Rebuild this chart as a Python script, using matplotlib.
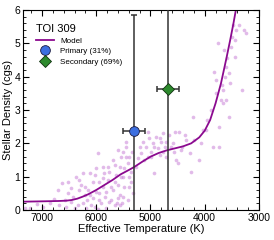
# stellar density vs effective temperature for TOI 309
import numpy
import matplotlib
matplotlib.use('Agg')
import matplotlib.pyplot as plt
from matplotlib.ticker import MultipleLocator

plt.rcParams['font.family'] = ['Liberation Sans', 'DejaVu Sans']

# background sample of stars (Teff [K], density [cgs])
field_teff = [7320, 7100, 6860, 6770, 6640, 6710, 6520, 6460, 6430, 6340,
              6280, 6310, 6210, 6170, 6120, 6060, 6030, 6000, 5970, 5940,
              5910, 5880, 5850, 5830, 5790, 5760, 5720, 5690, 5660, 5630,
              5620, 5600, 5570, 5540, 5520, 5500, 5480, 5460, 5450, 5420,
              5400, 5390, 5360, 5340, 5260, 5230, 5200, 5170, 5140, 5110,
              5080, 5050, 5020, 4990, 4960, 4930, 4900, 4870, 4830, 4800,
              4770, 4710, 4650, 4620, 4590, 4530, 4500, 4470, 4440, 4410,
              4340, 4280, 4250, 4220, 4190, 4100, 4070, 4030, 3980, 3950,
              3880, 3850, 3820, 3800, 3790, 3760, 3740, 3730, 3700, 3670,
              3660, 3640, 3610, 3600, 3580, 3550, 3530, 3520, 3490, 3470,
              3450, 3420, 3360, 3310, 3270, 3240, 3450, 3550, 3620, 3690,
              6550, 6400, 6250, 6180, 6090, 6030, 5970, 5820, 5760, 5660,
              5600, 5560, 5510, 5820, 5940, 6120, 6250, 6370, 6520, 6580,
              6680, 6150, 6060, 5940, 5720, 5660, 5880, 5790, 5690, 5570,
              5600, 5510, 5450, 5390, 5330, 5360, 5540, 5480, 5420, 6980,
              7230, 5880, 6000, 6210, 6310, 6460, 5050, 4930, 4990, 4830,
              4740, 4710, 4560, 4540, 4370, 4770]
field_rho = [0.05, 0.18, 0.20, 0.32, 0.82, 0.60, 0.50, 0.67, 0.40, 0.15,
             0.75, 0.90, 0.70, 0.30, 0.45, 0.85, 1.05, 0.55, 1.70, 0.30,
             0.20, 0.70, 1.10, 0.40, 0.90, 1.15, 0.30, 0.60, 1.35, 1.05,
             0.20, 0.75, 0.45, 1.60, 0.20, 1.00, 1.25, 2.05, 1.90, 1.40,
             0.70, 1.60, 1.15, 1.75, 1.30, 1.55, 1.90, 1.70, 2.05, 1.50,
             1.90, 1.60, 2.15, 1.75, 2.00, 1.10, 2.20, 1.85, 1.65, 2.05,
             1.75, 1.60, 2.25, 1.90, 2.00, 1.50, 1.40, 2.35, 1.80, 1.90,
             2.10, 1.70, 1.15, 2.80, 2.10, 1.50, 2.00, 2.40, 2.40, 2.70,
             3.00, 1.90, 4.15, 3.90, 3.50, 5.00, 1.90, 2.50, 3.30, 3.20,
             3.60, 4.80, 3.30, 4.30, 4.55, 2.80, 3.80, 4.90, 5.20, 5.55,
             5.10, 5.40, 5.55, 3.60, 5.40, 5.30, 4.60, 4.10, 4.00, 3.75,
             0.10, 0.05, 0.20, 0.05, 0.15, 0.10, 0.02, 0.05, 0.25, 0.15,
             0.35, 0.15, 0.40, 0.55, 0.85, 1.10, 1.10, 1.00, 0.85, 0.30,
             0.15, 0.60, 0.35, 0.50, 0.70, 0.85, 0.95, 1.30, 1.50, 1.30,
             1.80, 1.75, 1.60, 1.00, 0.50, 0.85, 1.00, 0.70, 0.30, 0.10,
             0.05, 1.30, 1.25, 0.45, 0.60, 0.25, 2.35, 1.90, 1.60, 2.15,
             1.90, 2.05, 1.75, 2.35, 2.25, 2.30]

# model relation
model_teff = [7350, 7000, 6700, 6550, 6450, 6350, 6250, 6150, 6000, 5850,
              5700, 5550, 5400, 5300, 5150, 5000, 4850, 4700, 4550, 4400,
              4250, 4100, 4000, 3900, 3800, 3700, 3600, 3530, 3470, 3420]
model_rho = [0.25, 0.26, 0.27, 0.28, 0.30, 0.34, 0.40, 0.47, 0.60, 0.75,
             0.90, 1.07, 1.20, 1.29, 1.45, 1.60, 1.71, 1.79, 1.85, 1.91,
             2.00, 2.18, 2.38, 2.70, 3.20, 3.80, 4.55, 5.10, 5.60, 6.05]

# the two stars
prim_teff, prim_teff_err = 5300, 200
prim_rho, prim_rho_lo, prim_rho_hi = 2.38, 2.60, 3.47
sec_teff, sec_teff_err = 4680, 200
sec_rho, sec_rho_lo, sec_rho_hi = 3.63, 4.00, 4.00

fig = plt.figure(figsize=(2.74, 2.40), dpi=100)
ax = fig.add_axes([0.084, 0.125, 0.861, 0.833])

ax.scatter(field_teff, field_rho, s=7, color='#c477d4', alpha=0.5,
           linewidths=0, zorder=1)
ax.plot(model_teff, model_rho, color='#8b0a8f', lw=1.3, label='Model', zorder=2)

ax.errorbar(prim_teff, prim_rho, xerr=prim_teff_err,
            yerr=[[prim_rho_lo], [prim_rho_hi]], fmt='none', ecolor='#333333',
            elinewidth=1.1, capsize=2, capthick=1.1, zorder=3)
ax.errorbar(sec_teff, sec_rho, xerr=sec_teff_err,
            yerr=[[sec_rho_lo], [sec_rho_hi]], fmt='none', ecolor='#333333',
            elinewidth=1.1, capsize=2, capthick=1.1, zorder=3)
ax.plot(prim_teff, prim_rho, linestyle='None', marker='o', markersize=7,
        color='#3c6fe0', markeredgecolor='#1a1a40', markeredgewidth=0.6,
        label='Primary (31%)', zorder=4)
ax.plot(sec_teff, sec_rho, linestyle='None', marker='D', markersize=6,
        color='#2d8a2d', markeredgecolor='#103010', markeredgewidth=0.6,
        label='Secondary (69%)', zorder=4)

ax.set_xlim(7350, 3000)
ax.set_ylim(0, 6)
ax.xaxis.set_major_locator(MultipleLocator(1000))
ax.xaxis.set_minor_locator(MultipleLocator(200))
ax.yaxis.set_major_locator(MultipleLocator(1))
ax.yaxis.set_minor_locator(MultipleLocator(0.2))
ax.tick_params(which='both', direction='in', top=True, right=True,
               labelsize=7.5, pad=2)
ax.tick_params(which='major', length=4, width=0.8)
ax.tick_params(which='minor', length=2, width=0.6)
for s in ax.spines.values():
    s.set_linewidth(0.8)
ax.set_xlabel('Effective Temperature (K)', fontsize=8, labelpad=1)
ax.set_ylabel('Stellar Density (cgs)', fontsize=8, labelpad=1)

leg = ax.legend(loc='upper left', frameon=False, fontsize=5.8,
                title='TOI 309', title_fontsize=8, handlelength=2.2,
                borderaxespad=0.6, labelspacing=0.35, bbox_to_anchor=(0.02, 0.97))
leg._legend_box.align = 'left'

fig.savefig('out.png', dpi=100)
